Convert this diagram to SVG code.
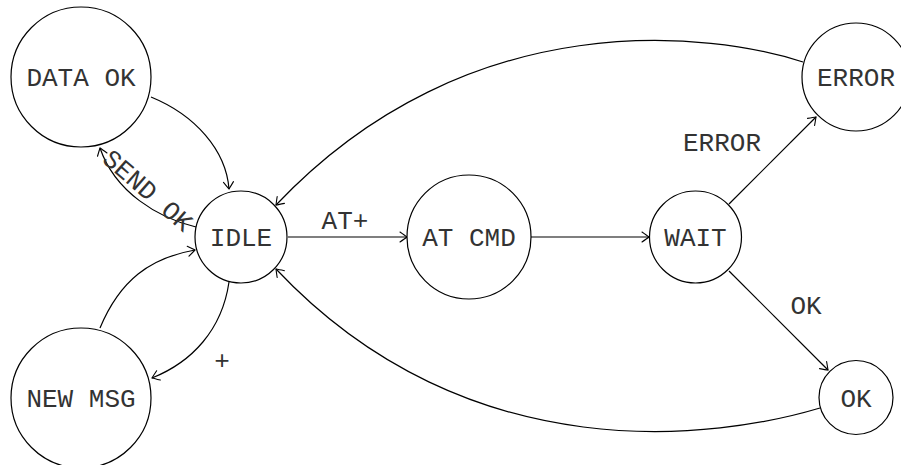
<svg xmlns="http://www.w3.org/2000/svg" width="901" height="465" viewBox="0 0 901 465">
<defs>
<marker id="arr" markerUnits="userSpaceOnUse" markerWidth="20" markerHeight="20" refX="0" refY="0" viewBox="-10 -10 20 20" orient="auto" overflow="visible">
<path d="M-7,-5 Q-2,-1.5 0,0 Q-2,1.5 -7,5" fill="none" stroke="#000" stroke-width="1.1" stroke-linecap="round"/>
</marker>
<style>
.n{fill:#fff;stroke:#000;stroke-width:1.2}
.t{font-family:"Liberation Mono","Courier New",monospace;font-size:26px;fill:#333;text-anchor:middle}
.e{fill:none;stroke:#000;stroke-width:1.2;marker-end:url(#arr)}
</style>
</defs>
<g id="edges">
<path class="e" d="M151,97 C195,115 226,150 229,189"/>
<path class="e" d="M196,227 C158,218 115,192 100,148"/>
<path class="e" d="M100,328 C120,280 150,258 195,250"/>
<path class="e" d="M229,282 C222,330 192,362 152,378"/>
<path class="e" d="M288,237 L407,237"/>
<path class="e" d="M531,237 L649,237"/>
<path class="e" d="M729,204 L816,117"/>
<path class="e" d="M729,271 L828,370"/>
<path class="e" d="M803,62 C715,33 470,0 276,205"/>
<path class="e" d="M820,408 C720,438 470,475 276,269"/>
<text class="t" x="345" y="229">AT+</text>
<text class="t" x="722" y="151">ERROR</text>
<text class="t" x="806" y="314">OK</text>
<text class="t" x="222" y="369">+</text>
<text class="t" transform="translate(148,190) rotate(41)" x="0" y="9">SEND OK</text>
</g>
<g id="data-ok"><circle class="n" cx="81" cy="77" r="70"/><text class="t" x="81" y="86">DATA OK</text></g>
<g id="idle"><circle class="n" cx="241" cy="237" r="46"/><text class="t" x="241" y="246">IDLE</text></g>
<g id="new-msg"><circle class="n" cx="81" cy="398" r="70"/><text class="t" x="81" y="407">NEW MSG</text></g>
<g id="at-cmd"><circle class="n" cx="469" cy="237" r="62"/><text class="t" x="469" y="246">AT CMD</text></g>
<g id="wait"><circle class="n" cx="695.5" cy="237" r="46"/><text class="t" x="695.5" y="246">WAIT</text></g>
<g id="error"><circle class="n" cx="856" cy="77" r="54"/><text class="t" x="856" y="86">ERROR</text></g>
<g id="ok"><circle class="n" cx="856" cy="397.5" r="37"/><text class="t" x="856" y="406.5">OK</text></g>
</svg>
